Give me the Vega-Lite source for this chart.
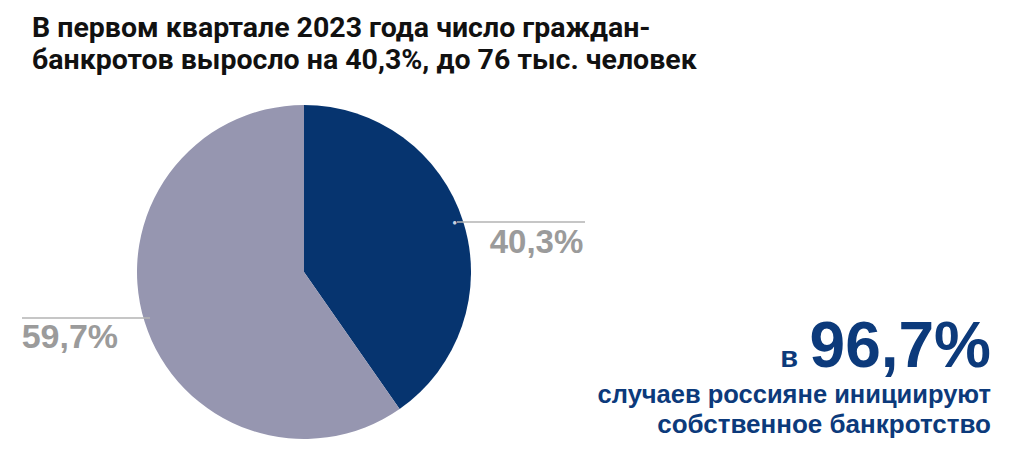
{
  "$schema": "https://vega.github.io/schema/vega-lite/v6.json",
  "width": 1019,
  "height": 473,
  "autosize": {"type": "fit", "contains": "padding"},
  "padding": 0,
  "background": "#ffffff",
  "config": {"view": {"stroke": null}},
  "datasets": {
    "slices": [
      {"category": "рост", "share": 40.3, "label": "40,3%"},
      {"category": "прочее", "share": 59.7, "label": "59,7%"}
    ],
    "one": [{}]
  },
  "layer": [
    {
      "data": {"name": "slices"},
      "mark": {"type": "arc", "radius": 167, "x": 304, "y": 272},
      "encoding": {
        "theta": {"field": "share", "type": "quantitative", "stack": true, "scale": {"domain": [0, 100]}},
        "order": {"field": "share", "sort": "ascending"},
        "color": {"field": "category", "type": "nominal", "scale": {"domain": ["рост", "прочее"], "range": ["#06346f", "#9696b0"]}, "legend": null}
      }
    },
    {
      "data": {"name": "one"},
      "mark": {"type": "rule", "color": "#b3b3b3", "strokeWidth": 1.5},
      "encoding": {"x": {"value": 457}, "x2": {"value": 585}, "y": {"value": 222}, "y2": {"value": 222}}
    },
    {
      "data": {"name": "one"},
      "mark": {"type": "rule", "color": "#b3b3b3", "strokeWidth": 1.5},
      "encoding": {"x": {"value": 22}, "x2": {"value": 150}, "y": {"value": 318}, "y2": {"value": 318}}
    },
    {
      "data": {"name": "slices"},
      "mark": {"type": "text", "radius": 158, "x": 304, "y": 272, "dy": -2, "align": "center", "baseline": "middle", "fontSize": 8, "color": "#c9d2e3", "font": "Liberation Sans"},
      "encoding": {
        "theta": {"field": "share", "type": "quantitative", "stack": true},
        "order": {"field": "share", "sort": "ascending"},
        "text": {"condition": {"test": "datum.category === 'рост'", "value": "●"}, "value": ""}
      }
    },
    {
      "data": {"name": "slices"},
      "mark": {"type": "text", "radius": 167, "x": 304, "y": 272, "dx": 120, "dy": 31, "align": "right", "baseline": "alphabetic", "font": "Liberation Sans", "fontWeight": "bold", "fontSize": 33, "color": "#9b9b9b"},
      "encoding": {
        "theta": {"field": "share", "type": "quantitative", "stack": true},
        "order": {"field": "share", "sort": "ascending"},
        "text": {"condition": {"test": "datum.category === 'рост'", "field": "label"}, "value": ""}
      }
    },
    {
      "data": {"name": "slices"},
      "mark": {"type": "text", "radius": 167, "x": 304, "y": 272, "dx": -123, "dy": 26, "align": "left", "baseline": "alphabetic", "font": "Liberation Sans", "fontWeight": "bold", "fontSize": 34, "color": "#9b9b9b"},
      "encoding": {
        "theta": {"field": "share", "type": "quantitative", "stack": true},
        "order": {"field": "share", "sort": "ascending"},
        "text": {"condition": {"test": "datum.category === 'прочее'", "field": "label"}, "value": ""}
      }
    },
    {
      "data": {"name": "one"},
      "mark": {"type": "text", "text": "В первом квартале 2023 года число граждан-", "x": 32, "y": 37, "align": "left", "baseline": "alphabetic", "font": "Roboto", "fontWeight": "bold", "fontSize": 28.5, "color": "#111111"},
      "encoding": {}
    },
    {
      "data": {"name": "one"},
      "mark": {"type": "text", "text": "банкротов выросло на 40,3%, до 76 тыс. человек", "x": 32, "y": 69, "align": "left", "baseline": "alphabetic", "font": "Roboto", "fontWeight": "bold", "fontSize": 28.5, "color": "#111111"},
      "encoding": {}
    },
    {
      "data": {"name": "one"},
      "mark": {"type": "text", "text": "96,7%", "x": 991, "y": 367, "align": "right", "baseline": "alphabetic", "font": "Liberation Sans", "fontWeight": "bold", "fontSize": 64, "color": "#0c3a7b"},
      "encoding": {}
    },
    {
      "data": {"name": "one"},
      "mark": {"type": "text", "text": "в", "x": 798, "y": 367, "align": "right", "baseline": "alphabetic", "font": "Liberation Sans", "fontWeight": "bold", "fontSize": 29, "color": "#0c3a7b"},
      "encoding": {}
    },
    {
      "data": {"name": "one"},
      "mark": {"type": "text", "text": "случаев россияне инициируют", "x": 991, "y": 403, "align": "right", "baseline": "alphabetic", "font": "Liberation Sans", "fontWeight": "bold", "fontSize": 25.5, "color": "#0c3a7b"},
      "encoding": {}
    },
    {
      "data": {"name": "one"},
      "mark": {"type": "text", "text": "собственное банкротство", "x": 991, "y": 433, "align": "right", "baseline": "alphabetic", "font": "Liberation Sans", "fontWeight": "bold", "fontSize": 26, "color": "#0c3a7b"},
      "encoding": {}
    }
  ]
}
